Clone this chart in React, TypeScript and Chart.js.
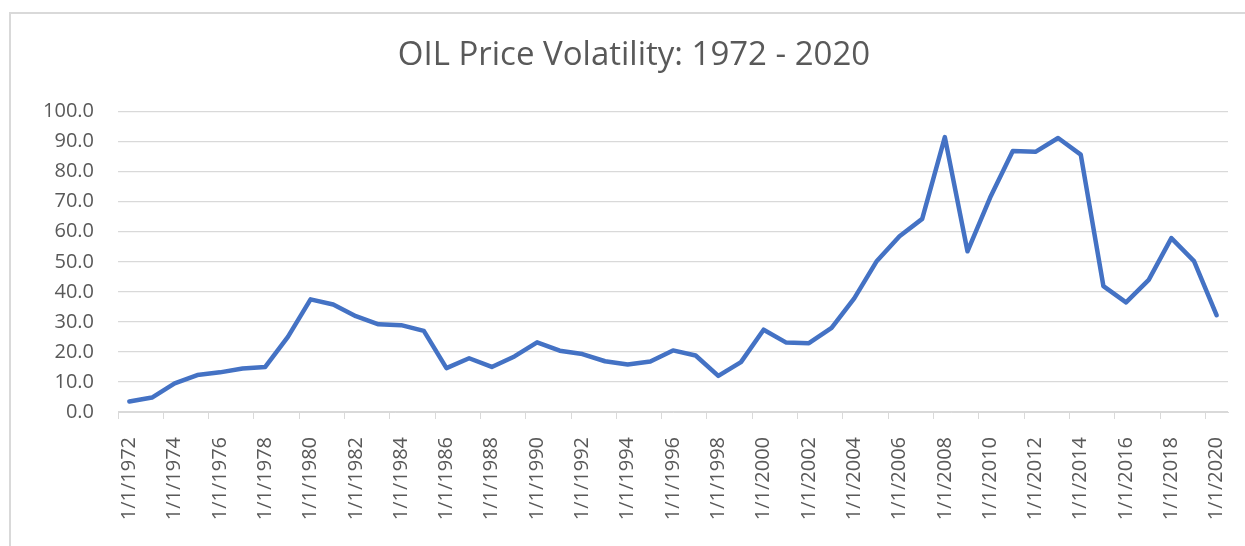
import React, { useEffect, useRef } from "react";
import { Chart, registerables } from "chart.js";

Chart.register(...registerables);

const TITLE = "OIL Price Volatility: 1972 - 2020";

const years: number[] = [
  1972, 1973, 1974, 1975, 1976, 1977, 1978, 1979, 1980, 1981,
  1982, 1983, 1984, 1985, 1986, 1987, 1988, 1989, 1990, 1991,
  1992, 1993, 1994, 1995, 1996, 1997, 1998, 1999, 2000, 2001,
  2002, 2003, 2004, 2005, 2006, 2007, 2008, 2009, 2010, 2011,
  2012, 2013, 2014, 2015, 2016, 2017, 2018, 2019, 2020,
];

const categories: string[] = years.map((y) => `1/1/${y}`);

const volatility: number[] = [
  3.5, 4.8, 9.5, 12.3, 13.2, 14.5, 15.0, 25.0, 37.5, 35.8,
  31.9, 29.2, 28.9, 27.0, 14.6, 17.9, 15.0, 18.5, 23.2, 20.4,
  19.3, 16.9, 15.8, 16.8, 20.5, 18.8, 12.0, 16.6, 27.4, 23.1,
  22.9, 28.0, 37.8, 50.3, 58.5, 64.3, 91.5, 53.5, 71.4, 86.9,
  86.6, 91.2, 85.7, 41.9, 36.5, 44.0, 57.9, 50.2, 32.2,
];

const yMin = 0;
const yMax = 100;
const yStep = 10;

const TEXT = "#595959";
const GRID = "#d9d9d9";
const FONT = "'Open Sans', 'Liberation Sans', sans-serif";

export default function App() {
  const canvasRef = useRef<HTMLCanvasElement | null>(null);

  useEffect(() => {
    if (!canvasRef.current) return;
    const chart = new Chart(canvasRef.current, {
      type: "line",
      data: {
        labels: categories,
        datasets: [
          {
            label: "Volatility",
            data: volatility,
            borderColor: "#4472C4",
            backgroundColor: "#4472C4",
            borderWidth: 4.5,
            pointRadius: 0,
            pointHoverRadius: 0,
            tension: 0,
            borderJoinStyle: "round",
            borderCapStyle: "round",
            fill: false,
          },
        ],
      },
      options: {
        animation: false,
        responsive: false,
        maintainAspectRatio: false,
        layout: { padding: { left: 40, right: 17, top: 0, bottom: 0 } },
        plugins: {
          legend: { display: false },
          tooltip: { enabled: false },
          title: {
            display: true,
            text: TITLE,
            color: TEXT,
            font: { family: FONT, size: 33, weight: "normal", lineHeight: 1.2 },
            padding: { top: 36, bottom: 36 },
          },
        },
        scales: {
          x: {
            type: "category",
            offset: true,
            grid: {
              display: true,
              drawOnChartArea: false,
              drawTicks: true,
              tickLength: 7,
              offset: true,
              lineWidth: 1,
              tickColor: (ctx: any) =>
                typeof ctx.index === "number" && ctx.index % 2 === 0 ? GRID : "rgba(0,0,0,0)",
            },
            border: { display: true, color: GRID, width: 1 },
            ticks: {
              autoSkip: false,
              maxRotation: 90,
              minRotation: 90,
              padding: 18,
              color: TEXT,
              font: { family: FONT, size: 20 },
              callback: function (this: any, _v: any, index: number) {
                return index % 2 === 0 ? categories[index] : "";
              },
            },
            afterFit: (scale: any) => {
              scale.height = 134;
              scale.paddingLeft = 0;
              scale.paddingRight = 0;
            },
          },
          y: {
            min: yMin,
            max: yMax,
            grid: { color: GRID, lineWidth: 1.2, drawTicks: false },
            border: { display: false },
            ticks: {
              stepSize: yStep,
              padding: 24,
              color: TEXT,
              font: { family: FONT, size: 20 },
              callback: (v: any) => Number(v).toFixed(1),
            },
            afterFit: (scale: any) => {
              scale.width = 78;
            },
          },
        },
      },
    });
    return () => chart.destroy();
  }, []);

  return (
    <div
      style={{
        position: "absolute",
        left: 0,
        top: 0,
        width: 1245,
        height: 546,
        overflow: "hidden",
        background: "#ffffff",
      }}
    >
      <div
        style={{
          position: "absolute",
          left: 9,
          top: 12,
          width: 1400,
          height: 700,
          border: `2px solid ${GRID}`,
          boxSizing: "border-box",
        }}
      />
      <canvas
        ref={canvasRef}
        width={1245}
        height={546}
        style={{ position: "absolute", left: 0, top: 0, width: 1245, height: 546 }}
      />
    </div>
  );
}
